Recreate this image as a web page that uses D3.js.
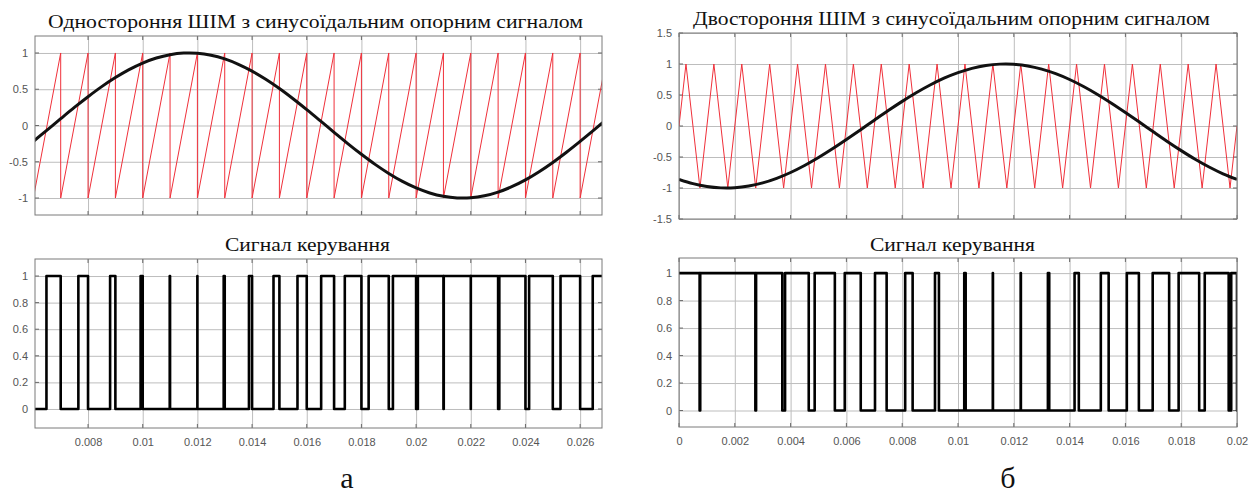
<!DOCTYPE html>
<html><head><meta charset="utf-8">
<script src="https://cdn.jsdelivr.net/npm/d3@7"></script>
<style>body{margin:0;background:#fff}</style>
</head><body>
<svg id="c" width="1259" height="494"></svg>
<script>
// ---------- data ----------
const titleA = "Одностороння ШІМ з синусоїдальним опорним сигналом";
const titleB = "Двостороння ШІМ з синусоїдальним опорним сигналом";
const subTitle = "Сигнал керування";
const panelLabels = ["а", "б"];

const sineA_t = [0.006,0.0065,0.007,0.0075,0.008,0.0085,0.009,0.0095,0.010,0.0105,0.011,0.0115,0.012,0.0125,0.013,0.0135,0.014,0.0145,0.015,0.0155,0.016,0.0165,0.017,0.0175,0.018,0.0185,0.019,0.0195,0.020,0.0205,0.021,0.0215,0.022,0.0225,0.023,0.0235,0.024,0.0245,0.025,0.0255,0.026,0.0265,0.027];
const sineA_v = [-0.218,-0.063,0.094,0.249,0.397,0.536,0.661,0.771,0.861,0.930,0.976,0.998,0.996,0.969,0.918,0.844,0.750,0.637,0.509,0.368,0.218,0.063,-0.094,-0.249,-0.397,-0.536,-0.661,-0.771,-0.861,-0.930,-0.976,-0.998,-0.996,-0.969,-0.918,-0.844,-0.750,-0.637,-0.509,-0.368,-0.218,-0.063,0.094];

const sawA_t = [0.006,0.007,0.007,0.008,0.008,0.009,0.009,0.010,0.010,0.011,0.011,0.012,0.012,0.013,0.013,0.014,0.014,0.015,0.015,0.016,0.016,0.017,0.017,0.018,0.018,0.019,0.019,0.020,0.020,0.021,0.021,0.022,0.022,0.023,0.023,0.024,0.024,0.025,0.025,0.026,0.026,0.027];
const sawA_v = [-1,1,-1,1,-1,1,-1,1,-1,1,-1,1,-1,1,-1,1,-1,1,-1,1,-1,1,-1,1,-1,1,-1,1,-1,1,-1,1,-1,1,-1,1,-1,1,-1,1,-1,1];

const pwmA_on  = [0.006479,0.007646,0.008807,0.009923,0.010988,0.011999,0.012962,0.013886,0.014784,0.015661,0.016527,0.017392,0.018264,0.019152,0.020065,0.021012,0.022002,0.023044,0.024134,0.025283,0.026461];
const pwmA_off = [0.007,0.008,0.009,0.010,0.011,0.012,0.013,0.014,0.015,0.016,0.017,0.018,0.019,0.020,0.021,0.022,0.023,0.024,0.025,0.026,0.027];

const sineB_t = [0,0.0005,0.001,0.0015,0.002,0.0025,0.003,0.0035,0.004,0.0045,0.005,0.0055,0.006,0.0065,0.007,0.0075,0.008,0.0085,0.009,0.0095,0.010,0.0105,0.011,0.0115,0.012,0.0125,0.013,0.0135,0.014,0.0145,0.015,0.0155,0.016,0.0165,0.017,0.0175,0.018,0.0185,0.019,0.0195,0.020];
const sineB_v = [-0.861,-0.930,-0.976,-0.998,-0.996,-0.969,-0.918,-0.844,-0.750,-0.637,-0.509,-0.368,-0.218,-0.063,0.094,0.249,0.397,0.536,0.661,0.771,0.861,0.930,0.976,0.998,0.996,0.969,0.918,0.844,0.750,0.637,0.509,0.368,0.218,0.063,-0.094,-0.249,-0.397,-0.536,-0.661,-0.771,-0.861];

const triB_t = [0,0.00025,0.00075,0.00125,0.00175,0.00225,0.00275,0.00325,0.00375,0.00425,0.00475,0.00525,0.00575,0.00625,0.00675,0.00725,0.00775,0.00825,0.00875,0.00925,0.00975,0.01025,0.01075,0.01125,0.01175,0.01225,0.01275,0.01325,0.01375,0.01425,0.01475,0.01525,0.01575,0.01625,0.01675,0.01725,0.01775,0.01825,0.01875,0.01925,0.01975,0.02];
const triB_v = [0,1,-1,1,-1,1,-1,1,-1,1,-1,1,-1,1,-1,1,-1,1,-1,1,-1,1,-1,1,-1,1,-1,1,-1,1,-1,1,-1,1,-1,1,-1,1,-1,1,-1,0];

const pwmB_on  = [0,0.000761,0.002763,0.003802,0.004863,0.005941,0.007025,0.008107,0.009175,0.010224,0.011247,0.012246,0.013222,0.014178,0.015119,0.016051,0.016978,0.017908,0.018844,0.019793];
const pwmB_off = [0.000739,0.002737,0.003702,0.00465,0.005586,0.006514,0.007442,0.008374,0.009317,0.010275,0.011253,0.012254,0.01327,0.014331,0.0154,0.016483,0.017568,0.018644,0.019702,0.02];

const xTicksA = [0.008,0.010,0.012,0.014,0.016,0.018,0.020,0.022,0.024,0.026];
const xLabelsA = ["0.008","0.01","0.012","0.014","0.016","0.018","0.02","0.022","0.024","0.026"];
const xTicksB = [0,0.002,0.004,0.006,0.008,0.010,0.012,0.014,0.016,0.018,0.020];
const xLabelsB = ["0","0.002","0.004","0.006","0.008","0.01","0.012","0.014","0.016","0.018","0.02"];
const yTicksA = [-1,-0.5,0,0.5,1];
const yLabelsA = ["-1","-0.5","0","0.5","1"];
const yTicksB = [-1.5,-1,-0.5,0,0.5,1,1.5];
const yLabelsB = ["-1.5","-1","-0.5","0","0.5","1","1.5"];
const yTicksPwm = [0,0.2,0.4,0.6,0.8,1];
const yLabelsPwm = ["0","0.2","0.4","0.6","0.8","1"];

// ---------- drawing ----------
const svg = d3.select("#c");
const serif = "'Liberation Serif','Times New Roman',serif";
const sans = "'Liberation Sans',Arial,sans-serif";
let clipId = 0;

function panel(o){
  const x = d3.scaleLinear().domain(o.xd).range([o.x0, o.x1]);
  const y = d3.scaleLinear().domain(o.yd).range([o.y1, o.y0]);
  const g = svg.append("g");
  const id = "clip" + (clipId++);
  svg.append("clipPath").attr("id", id).append("rect")
    .attr("x", o.x0).attr("y", o.y0).attr("width", o.x1 - o.x0).attr("height", o.y1 - o.y0);
  g.append("rect").attr("x", o.x0).attr("y", o.y0).attr("width", o.x1 - o.x0).attr("height", o.y1 - o.y0).attr("fill", "#fff");
  // grid via axes
  const gx = g.append("g").attr("transform", `translate(0,${o.y1})`)
    .call(d3.axisBottom(x).tickValues(o.xt).tickSize(-(o.y1 - o.y0)).tickFormat(""));
  const gy = g.append("g").attr("transform", `translate(${o.x0},0)`)
    .call(d3.axisLeft(y).tickValues(o.yt).tickSize(-(o.x1 - o.x0)).tickFormat(""));
  [gx, gy].forEach(a => { a.select(".domain").remove(); a.selectAll("line").attr("stroke", "#bdbdbd").attr("stroke-width", 1); });
  // inner ticks
  const tl = 4;
  const tk = g.append("g").attr("stroke", "#6a6a6a").attr("stroke-width", 1);
  o.xt.forEach(v => {
    tk.append("line").attr("x1", x(v)).attr("x2", x(v)).attr("y1", o.y1).attr("y2", o.y1 - tl);
    tk.append("line").attr("x1", x(v)).attr("x2", x(v)).attr("y1", o.y0).attr("y2", o.y0 + tl);
  });
  o.yt.forEach(v => {
    tk.append("line").attr("x1", o.x0).attr("x2", o.x0 + tl).attr("y1", y(v)).attr("y2", y(v));
    tk.append("line").attr("x1", o.x1).attr("x2", o.x1 - tl).attr("y1", y(v)).attr("y2", y(v));
  });
  // labels
  const ly = g.append("g").attr("transform", `translate(${o.x0},0)`)
    .call(d3.axisLeft(y).tickValues(o.yt).tickSize(0).tickPadding(7).tickFormat((d, i) => o.yl[i]));
  ly.select(".domain").remove();
  ly.selectAll("text").attr("font-family", sans).attr("font-size", 11).attr("fill", "#555");
  if (o.xl) {
    const lx = g.append("g").attr("transform", `translate(0,${o.y1})`)
      .call(d3.axisBottom(x).tickValues(o.xt).tickSize(0).tickPadding(10).tickFormat((d, i) => o.xl[i]));
    lx.select(".domain").remove();
    lx.selectAll("text").attr("font-family", sans).attr("font-size", 11).attr("fill", "#555");
  }
  const plot = g.append("g").attr("clip-path", `url(#${id})`);
  const frame = () => g.append("rect").attr("x", o.x0).attr("y", o.y0).attr("width", o.x1 - o.x0).attr("height", o.y1 - o.y0)
      .attr("fill", "none").attr("stroke", "#7a7a7a").attr("stroke-width", 1);
  return {x, y, plot, frame};
}

function drawRefPanel(p, carT, carV, sT, sV){
  const lin = d3.line().x(d => p.x(d[0])).y(d => p.y(d[1]));
  p.plot.append("path").attr("d", lin(d3.zip(carT, carV)))
    .attr("fill", "none").attr("stroke", "#f0303a").attr("stroke-width", 1);
  const smooth = d3.line().x(d => p.x(d[0])).y(d => p.y(d[1])).curve(d3.curveCatmullRom);
  p.plot.append("path").attr("d", smooth(d3.zip(sT, sV)))
    .attr("fill", "none").attr("stroke", "#111").attr("stroke-width", 3);
  p.frame();
}

function drawPwm(p, on, off){
  const [d0, d1] = p.x.domain();
  const pts = [];
  if (on[0] > d0) pts.push([d0, 0]);
  on.forEach((t, i) => {
    if (t > d0) pts.push([t, 0]);
    pts.push([t, 1]); pts.push([off[i], 1]); pts.push([off[i], 0]);
  });
  if (off[off.length - 1] < d1) pts.push([d1, 0]);
  const lin = d3.line().x(d => p.x(d[0])).y(d => p.y(d[1]));
  p.plot.append("path").attr("d", lin(pts)).attr("fill", "none").attr("stroke", "#000")
    .attr("stroke-width", 2.6).attr("stroke-linejoin", "round").attr("stroke-linecap", "round");
  p.frame();
}

// panel a
const pA1 = panel({x0: 35, x1: 602, y0: 36, y1: 215, xd: [0.00606, 0.0268], yd: [-1.234, 1.234], xt: xTicksA, yt: yTicksA, yl: yLabelsA});
drawRefPanel(pA1, sawA_t, sawA_v, sineA_t, sineA_v);
const pA2 = panel({x0: 35, x1: 602, y0: 259, y1: 428, xd: [0.00606, 0.0268], yd: [-0.143, 1.128], xt: xTicksA, xl: xLabelsA, yt: yTicksPwm, yl: yLabelsPwm});
drawPwm(pA2, pwmA_on, pwmA_off);

// panel b
const pB1 = panel({x0: 679, x1: 1237, y0: 33, y1: 219, xd: [0, 0.02], yd: [-1.5, 1.5], xt: xTicksB, yt: yTicksB, yl: yLabelsB});
drawRefPanel(pB1, triB_t, triB_v, sineB_t, sineB_v);
const pB2 = panel({x0: 679, x1: 1237, y0: 258, y1: 427, xd: [0, 0.02], yd: [-0.12, 1.11], xt: xTicksB, xl: xLabelsB, yt: yTicksPwm, yl: yLabelsPwm});
drawPwm(pB2, pwmB_on, pwmB_off);

// titles
function txt(s, x, y, size, len){
  const t = svg.append("text").attr("x", x).attr("y", y).attr("text-anchor", "middle")
    .attr("font-family", serif).attr("font-size", size).attr("fill", "#111").text(s);
  if (len) t.attr("textLength", len).attr("lengthAdjust", "spacingAndGlyphs");
}
txt(titleA, 315.5, 28, 19, 535);
txt(titleB, 951.5, 25, 19, 517);
txt(subTitle, 307.5, 251, 19, 165);
txt(subTitle, 952.5, 251, 19, 165);
txt(panelLabels[0], 347, 488, 30);
txt(panelLabels[1], 1008, 488, 30);
</script>
</body></html>
